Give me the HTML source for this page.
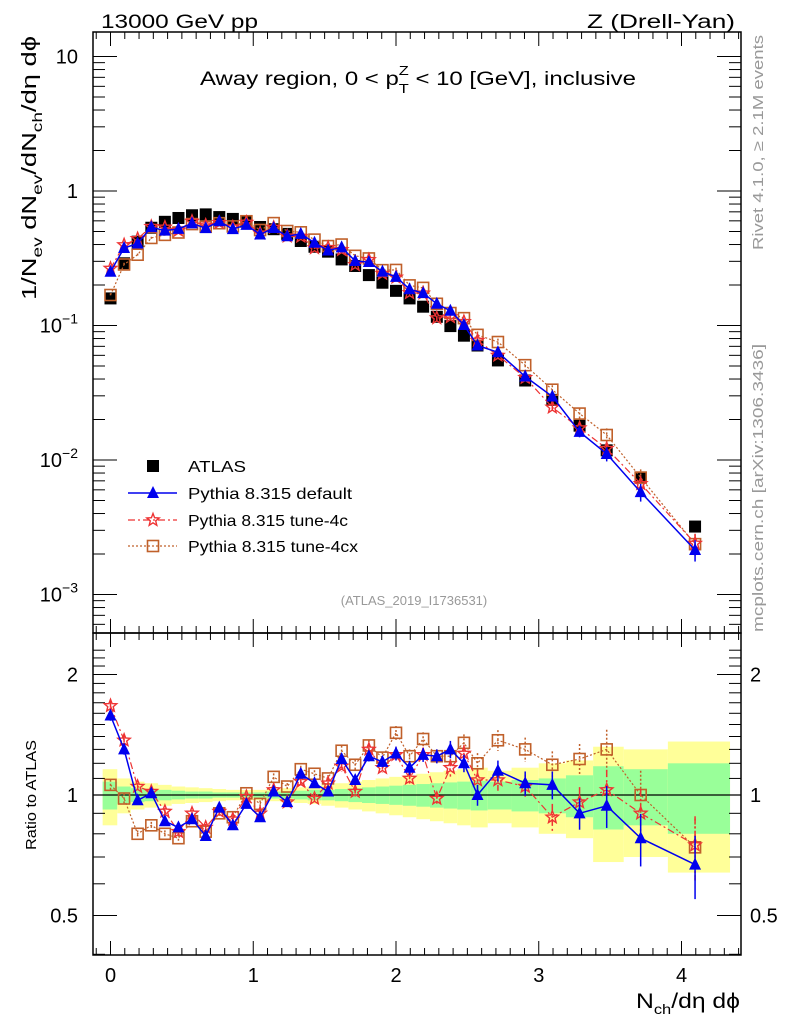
<!DOCTYPE html>
<html><head><meta charset="utf-8"><style>
html,body{margin:0;padding:0;background:#fff;}
svg{display:block;font-family:"Liberation Sans",sans-serif;}
</style></head><body>
<svg id="chart" width="786" height="1024" viewBox="0 0 786 1024">
<rect x="0" y="0" width="786" height="1024" fill="#fff"/>
<g id="bands"></g>
<g id="axes"></g>
<g id="series"></g>
<text x="101" y="28" font-size="19" textLength="157" lengthAdjust="spacingAndGlyphs">13000 GeV pp</text>
<text x="735" y="28" font-size="19" text-anchor="end" textLength="148" lengthAdjust="spacingAndGlyphs">Z (Drell-Yan)</text>
<text x="200" y="85" font-size="19" textLength="436" lengthAdjust="spacingAndGlyphs">Away region, 0 &lt; p<tspan font-size="13" dy="8">T</tspan><tspan font-size="13" dx="-8" dy="-18">Z</tspan><tspan dy="10"> &lt; 10 [GeV], inclusive</tspan></text>
<text x="414" y="605" font-size="13" fill="#999" text-anchor="middle">(ATLAS_2019_I1736531)</text>
<text transform="translate(763,250) rotate(-90)" font-size="15" fill="#999" textLength="215" lengthAdjust="spacingAndGlyphs">Rivet 4.1.0, ≥ 2.1M events</text>
<text transform="translate(763,632) rotate(-90)" font-size="15" fill="#999" textLength="288" lengthAdjust="spacingAndGlyphs">mcplots.cern.ch [arXiv:1306.3436]</text>
<text transform="translate(36,300) rotate(-90)" font-size="20" textLength="264" lengthAdjust="spacingAndGlyphs">1/N<tspan font-size="14" dy="6">ev</tspan><tspan dy="-6"> dN</tspan><tspan font-size="14" dy="6">ev</tspan><tspan dy="-6">/dN</tspan><tspan font-size="14" dy="6">ch</tspan><tspan dy="-6">/dη dϕ</tspan></text>
<text transform="translate(36,850) rotate(-90)" font-size="15" textLength="110" lengthAdjust="spacingAndGlyphs">Ratio to ATLAS</text>
<text x="740" y="1008" font-size="21" text-anchor="end" textLength="104" lengthAdjust="spacingAndGlyphs">N<tspan font-size="14" dy="6">ch</tspan><tspan dy="-6">/dη dϕ</tspan></text>
<g id="legend"></g>
</svg>
<script>
const xs=[0,0.095,0.19,0.286,0.381,0.476,0.571,0.667,0.762,0.857,0.952,1.048,1.143,1.238,1.333,1.429,1.524,1.619,1.714,1.81,1.905,2.0,2.095,2.19,2.286,2.381,2.476,2.571,2.714,2.905,3.095,3.286,3.476,3.714,4.095];
const atlas=[0.159,0.29,0.42,0.533,0.59,0.63,0.66,0.67,0.64,0.62,0.59,0.54,0.52,0.48,0.425,0.385,0.354,0.31,0.277,0.237,0.208,0.181,0.159,0.138,0.116,0.099,0.084,0.071,0.055,0.039,0.028,0.018,0.0118,0.0074,0.0032];
const ratioDefault=[1.58,1.30,0.97,1.01,0.86,0.83,0.87,0.79,0.93,0.84,0.95,0.88,1.02,0.96,1.13,1.07,1.02,1.23,1.09,1.25,1.21,1.27,1.17,1.26,1.25,1.30,1.20,1.00,1.15,1.07,1.06,0.90,0.94,0.78,0.67];
const ratio4c=[1.67,1.37,1.05,1.02,0.91,0.81,0.90,0.83,0.91,0.87,0.99,0.90,1.03,0.96,1.08,0.98,1.07,1.18,1.02,1.30,1.17,1.26,1.10,1.26,0.98,1.17,1.27,1.09,1.09,1.05,0.88,0.96,1.03,0.90,0.75];
const ratio4cx=[1.06,0.98,0.80,0.84,0.80,0.78,0.86,0.81,0.90,0.88,1.01,0.95,1.11,1.05,1.16,1.13,1.10,1.29,1.19,1.33,1.24,1.43,1.25,1.38,1.25,1.25,1.35,1.20,1.37,1.30,1.19,1.23,1.30,1.00,0.74];
const mcErr=[0.03,0.03,0.02,0.02,0.02,0.02,0.02,0.02,0.02,0.02,0.02,0.02,0.02,0.02,0.02,0.02,0.02,0.03,0.03,0.03,0.03,0.04,0.04,0.04,0.04,0.05,0.05,0.06,0.06,0.07,0.08,0.09,0.12,0.15,0.18];
const bandYellow=[0.16,0.10,0.08,0.07,0.06,0.05,0.045,0.04,0.035,0.03,0.03,0.03,0.035,0.04,0.045,0.05,0.06,0.07,0.08,0.09,0.10,0.11,0.12,0.13,0.14,0.15,0.16,0.17,0.15,0.17,0.2,0.22,0.32,0.30,0.36];
const bandGreen=[0.08,0.05,0.04,0.035,0.03,0.025,0.02,0.02,0.015,0.015,0.015,0.015,0.02,0.02,0.025,0.03,0.03,0.035,0.04,0.045,0.05,0.055,0.06,0.065,0.07,0.075,0.08,0.085,0.08,0.09,0.1,0.12,0.18,0.16,0.2];
const xTicks=[0,1,2,3,4];
const yMainTicks=[1,0,-1,-2,-3];
const yRatioTicks=[2,1,0.5];

const NS='http://www.w3.org/2000/svg';
const L=93,R=741,T=32,MB=633,RB=955;
const X=v=>110.5+142.75*v;
const Y=v=>191-134.5*Math.log10(v);
const YR=r=>795-120.5*Math.log2(r);
function mk(tag,attrs,parent){const e=document.createElementNS(NS,tag);for(const k in attrs)e.setAttribute(k,attrs[k]);parent.appendChild(e);return e;}
const axes=document.getElementById('axes'),bands=document.getElementById('bands'),ser=document.getElementById('series'),leg=document.getElementById('legend');

const edges=[-0.055];
for(let i=0;i<xs.length-1;i++)edges.push((xs[i]+xs[i+1])/2);
edges.push(4.34);
xs.forEach((x,i)=>{
  const w=X(edges[i+1])-X(edges[i]);
  const y1=mk('rect',{x:X(edges[i]),y:YR(1+bandYellow[i]),width:w,height:YR(1-bandYellow[i])-YR(1+bandYellow[i]),fill:'#ffff99'},bands);
  
  
  const g1=mk('rect',{x:X(edges[i]),y:YR(1+bandGreen[i]),width:w,height:YR(1-bandGreen[i])-YR(1+bandGreen[i]),fill:'#99ff99'},bands);
  
  
});

const f1=mk('rect',{x:L,y:T,width:R-L,height:MB-T,fill:'none',stroke:'#000','stroke-width':1.5},axes);


const f2=mk('rect',{x:L,y:MB,width:R-L,height:RB-MB,fill:'none',stroke:'#000','stroke-width':1.5},axes);


const one=mk('line',{x1:L,x2:R,y1:YR(1),y2:YR(1),stroke:'#000','stroke-width':1.3},axes);



for(let v=-0.1;v<=4.41;v+=0.1){
  const major=Math.abs(v-Math.round(v))<1e-6;const h=major?14:7;const x=X(v);
  if(x<L||x>R)continue;
  [[T,T+h],[MB,MB-h],[MB,MB+h],[RB,RB-h]].forEach(p=>mk('line',{x1:x,x2:x,y1:p[0],y2:p[1],stroke:'#000'},axes));
}
xTicks.forEach(v=>{const t=mk('text',{x:X(v),y:982,'font-size':20,'text-anchor':'middle'},axes);t.textContent=v;
  
  });
for(let d=-4;d<=1;d++)for(let m=1;m<10;m++){const v=m*Math.pow(10,d);const y=Y(v);if(y<T||y>MB)continue;const h=m==1?24:12;
  mk('line',{x1:L,x2:L+h,y1:y,y2:y,stroke:'#000'},axes);mk('line',{x1:R,x2:R-h,y1:y,y2:y,stroke:'#000'},axes);}
yMainTicks.forEach(e=>{const t=mk('text',{x:78,y:Y(Math.pow(10,e))+7,'font-size':20,'text-anchor':'end'},axes);
  
  
  if(e==1)t.textContent='10';else if(e==0)t.textContent='1';else{t.textContent='10';const s=mk('tspan',{dy:-9,'font-size':14},t);s.textContent='−'+(-e);}
});
for(let r=0.4;r<=2.4;r+=0.1){const y=YR(r);if(y<MB||y>RB)continue;const major=[0.5,1,2].some(q=>Math.abs(q-r)<1e-6);const h=major?24:12;
  mk('line',{x1:L,x2:L+h,y1:y,y2:y,stroke:'#000'},axes);mk('line',{x1:R,x2:R-h,y1:y,y2:y,stroke:'#000'},axes);}
yRatioTicks.forEach(r=>{[[78,'end'],[750,'start']].forEach(p=>{const t=mk('text',{x:p[0],y:YR(r)+7,'font-size':20,'text-anchor':p[1]},axes);t.textContent=r;
  
  });});

function marker(type,cx,cy,g,s){
  if(type=='sq')return mk('rect',{x:cx-6,y:cy-6,width:12,height:12,fill:'#000'},g);
  if(type=='tri')return mk('polygon',{points:`${cx},${cy-7} ${cx-6},${cy+5} ${cx+6},${cy+5}`,fill:'#0000ee'},g);
  if(type=='star'){let p=[];for(let k=0;k<10;k++){const a=-Math.PI/2+k*Math.PI/5;const r=k%2?2.8:6.5;p.push((cx+r*Math.cos(a)).toFixed(1)+','+(cy+r*Math.sin(a)).toFixed(1));}
    return mk('polygon',{points:p.join(' '),fill:'none',stroke:'#ee3333','stroke-width':1.4},g);}
  if(type=='box')return mk('rect',{x:cx-5.5,y:cy-5.5,width:11,height:11,fill:'none',stroke:'#c0602a','stroke-width':1.6},g);
}
const mcs=[
 {name:'default',r:ratioDefault,col:'#0000ee',dash:'',type:'tri',w:1.5},
 {name:'tune-4c',r:ratio4c,col:'#ee3333',dash:'7,3,2,3',type:'star',w:1.2},
 {name:'tune-4cx',r:ratio4cx,col:'#c0602a',dash:'2,2',type:'box',w:1.2}
];
const gd=mk('g',{},ser);


xs.forEach((x,i)=>{const m=marker('sq',X(x),Y(atlas[i]),gd);
  
  });
mcs.slice().reverse().forEach(s=>{
  const g=mk('g',{},ser);
  
  
  const main=xs.map((x,i)=>X(x).toFixed(1)+','+Y(atlas[i]*s.r[i]).toFixed(1)).join(' ');
  const rat=xs.map((x,i)=>X(x).toFixed(1)+','+YR(s.r[i]).toFixed(1)).join(' ');
  mk('polyline',{points:main,fill:'none',stroke:s.col,'stroke-width':s.w,'stroke-dasharray':s.dash},g);
  mk('polyline',{points:rat,fill:'none',stroke:s.col,'stroke-width':s.w,'stroke-dasharray':s.dash},g);
  xs.forEach((x,i)=>{
    const v=atlas[i]*s.r[i],e=mcErr[i];
    mk('line',{x1:X(x),x2:X(x),y1:Y(v*(1+e)),y2:Y(v*(1-e)),stroke:s.col,'stroke-width':1.5,'stroke-dasharray':s.dash},g);
    mk('line',{x1:X(x),x2:X(x),y1:YR(s.r[i]*(1+e)),y2:YR(s.r[i]*(1-e)),stroke:s.col,'stroke-width':1.5,'stroke-dasharray':s.dash},g);
    const m1=marker(s.type,X(x),Y(v),g);
    
    
    const m2=marker(s.type,X(x),YR(s.r[i]),g);
    
    
  });
});
const labels=['ATLAS','Pythia 8.315 default','Pythia 8.315 tune-4c','Pythia 8.315 tune-4cx'];
const labelW=[58,164,160,170];
const types=['sq','tri','star','box'];const ly=[466,493,520,546];
labels.forEach((lab,i)=>{
  const g=mk('g',{},leg);
  
  
  if(i>0){const s=mcs[i-1];mk('line',{x1:128,x2:177,y1:ly[i],y2:ly[i],stroke:s.col,'stroke-width':s.w,'stroke-dasharray':s.dash},g);}
  marker(types[i],153,ly[i],g);
  const t=mk('text',{x:188,y:ly[i]+6,'font-size':16,textLength:labelW[i],lengthAdjust:'spacingAndGlyphs'},g);t.textContent=lab;
});
</script>
</body></html>
